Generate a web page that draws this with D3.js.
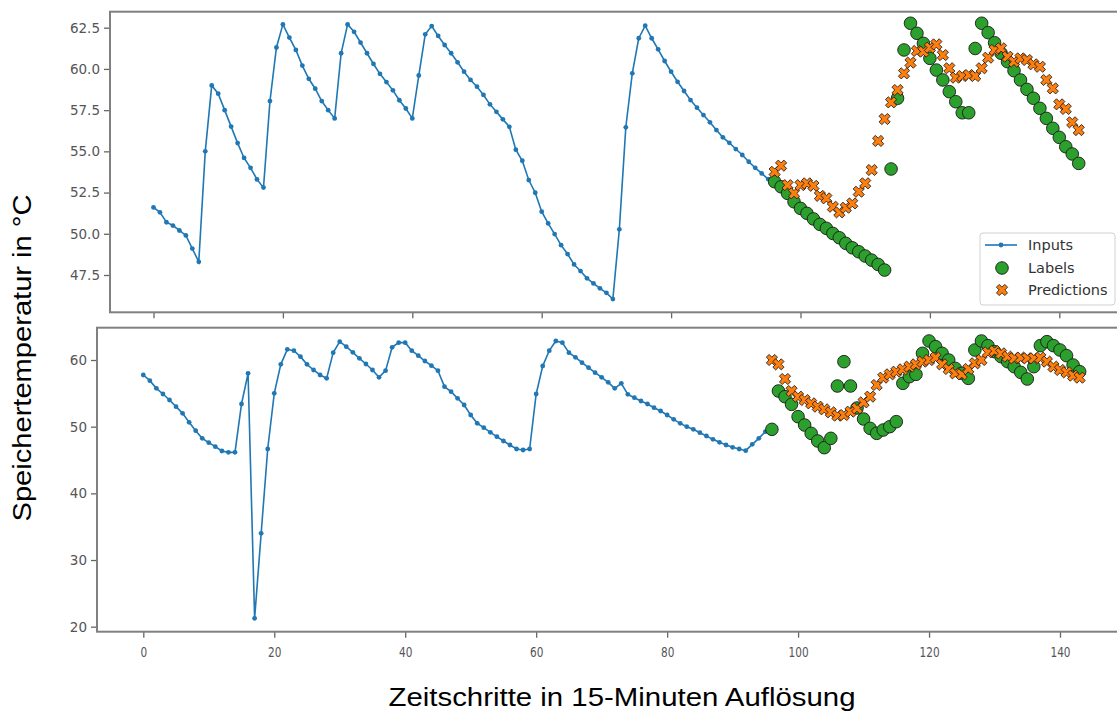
<!DOCTYPE html>
<html>
<head>
<meta charset="utf-8">
<script src="https://cdn.jsdelivr.net/npm/d3@7"></script>
<style>
body{margin:0;background:#fff;}
svg{display:block;}
</style>
</head>
<body>
<svg id="chart" width="1117" height="713"></svg>
<script>
//time steps of the predicted part
var predSteps=d3.range(96,144)
var inputSteps=d3.range(0,96)

//upper plot
var topInputs=[51.6,51.3,50.7,50.5,50.2,49.9,49.1,48.3,55.0,59.0,58.5,57.5,56.5,55.5,54.6,54.0,53.3,52.8,58.05,61.3,
62.7,61.9,61.15,60.2,59.4,58.8,58.05,57.5,57.0,60.95,62.7,62.25,61.6,60.95,60.3,59.7,59.2,58.7,58.1,57.6,
57.0,59.6,62.1,62.6,62.0,61.45,60.95,60.4,59.83,59.33,58.92,58.42,57.85,57.4,56.94,56.49,55.1,54.43,53.26,52.49,
51.34,50.63,49.98,49.31,48.77,48.14,47.74,47.3,46.99,46.69,46.42,46.04,50.27,56.46,59.73,61.86,62.62,61.86,61.19,60.48,
59.83,59.22,58.66,58.11,57.65,57.2,56.76,56.29,55.85,55.52,55.14,54.78,54.37,54.0,53.66,53.32]
var topLabels=[53.16,52.85,52.45,51.94,51.54,51.24,50.9,50.57,50.33,50.02,49.76,49.42,49.15,48.91,48.65,48.4,48.14,47.8,
53.93,58.22,61.15,62.77,62.16,61.55,60.64,59.93,59.33,58.62,58.01,57.34,57.34,61.24,62.77,62.2,61.59,60.95,60.44,59.89,
59.33,58.76,58.22,57.61,57.0,56.4,55.85,55.28,54.84,54.27]
var topPreds=[53.76,54.13,52.95,52.45,52.95,53.06,52.91,52.3,52.15,51.64,51.3,51.58,51.84,52.55,53.06,53.87,55.63,56.96,
57.97,58.72,59.73,60.38,61.09,61.05,61.29,61.49,60.84,60.04,59.47,59.57,59.63,59.57,60.04,60.68,61.15,61.25,60.74,60.44,
60.64,60.54,60.28,60.13,59.33,58.82,57.85,57.57,56.76,56.29]

//lower plot
var botInputs=[57.75,56.9,55.75,54.9,54.0,53.0,52.0,50.65,49.4,48.25,47.6,47.0,46.35,46.15,46.15,53.4,58.0,21.25,34.0,46.65,
55.0,59.35,61.6,61.4,60.5,59.35,58.5,57.75,57.25,61.1,62.75,62.0,61.15,60.25,59.4,58.5,57.4,58.4,61.9,62.6,
62.6,61.4,60.65,59.85,59.15,58.4,56.0,55.25,54.25,53.25,51.75,50.5,49.85,49.15,48.5,47.85,47.25,46.65,46.5,46.65,
54.9,59.1,61.4,62.85,62.6,61.1,60.4,59.6,58.85,58.1,57.4,56.65,55.75,56.5,54.85,54.35,53.85,53.4,52.85,52.35,
51.75,51.1,50.5,50.0,49.6,49.1,48.6,48.1,47.65,47.25,46.9,46.65,46.4,47.35,48.25,49.25]
var botLabels=[49.6,55.35,54.5,53.35,51.5,50.25,49.0,47.85,46.85,48.25,56.1,59.75,56.1,52.8,51.15,49.75,49.0,49.5,
50.0,50.75,56.5,57.5,57.85,61.0,62.85,62.0,61.0,60.0,58.75,58.0,57.25,61.5,62.85,62.15,61.25,60.5,59.75,59.0,
58.15,57.15,59.0,62.15,62.75,62.15,61.5,60.65,59.25,58.25]
var botPreds=[60.0,59.35,57.15,55.35,54.5,54.0,53.5,53.0,52.6,52.15,51.65,51.75,52.25,52.75,53.65,54.5,56.25,57.35,
57.85,58.25,58.6,59.0,59.35,59.75,60.0,60.35,59.35,58.65,58.0,57.85,58.65,59.5,60.0,61.15,61.35,61.0,60.5,60.25,
60.35,60.25,60.25,60.35,59.75,59.0,58.5,58.15,57.65,57.35]

var topYTicks=[47.5,50,52.5,55,57.5,60,62.5]
var botYTicks=[20,30,40,50,60]
var xTicks=[0,20,40,60,80,100,120,140]
var legendNames=["Inputs","Labels","Predictions"]

var colors={inputs:"#1f77b4",labels:"#2ca02c",preds:"#ff7f0e"}

var svg=d3.select("#chart")

var drawPanel=function(panel){
    var g=svg.append("g")
    var xScale=panel.xScale
    var yScale=panel.yScale

    //ticks left
    var yAxis=d3.axisLeft(yScale)
        .tickValues(panel.yTicks)
        .tickFormat(panel.yFormat)
        .tickSize(6)
        .tickPadding(4)
    g.append("g")
        .attr("transform","translate("+panel.left+",0)")
        .call(yAxis)
        .call(function(a){
            a.select(".domain").remove()
            a.selectAll("line").attr("stroke","#666").attr("stroke-width",1.3)
            a.selectAll("text")
                .attr("fill","#555")
                .style("font-family","DejaVu Sans")
                .style("font-size","13.5px")
        })

    //ticks bottom
    var xAxis=d3.axisBottom(xScale)
        .tickValues(xTicks)
        .tickSize(6)
        .tickPadding(9)
        .tickFormat(panel.showX ? d3.format("d") : "")
    g.append("g")
        .attr("transform","translate(0,"+panel.bottom+")")
        .call(xAxis)
        .call(function(a){
            a.select(".domain").remove()
            a.selectAll("line").attr("stroke","#666").attr("stroke-width",1.3)
            a.selectAll("text")
                .attr("fill","#555")
                .attr("transform","scale(0.75,1)")
                .style("font-family","DejaVu Sans")
                .style("font-size","14px")
        })

    //frame
    g.append("rect")
        .attr("x",panel.left)
        .attr("y",panel.top)
        .attr("width",1200-panel.left)
        .attr("height",panel.bottom-panel.top)
        .attr("fill","none")
        .attr("stroke","#808080")
        .attr("stroke-width",2)

    //inputs line
    var line=d3.line()
        .x(function(d,i){return xScale(inputSteps[i])})
        .y(function(d){return yScale(d)})
    g.append("path")
        .datum(panel.inputs)
        .attr("d",line)
        .attr("fill","none")
        .attr("stroke",colors.inputs)
        .attr("stroke-width",1.6)
    g.selectAll(".dot")
        .data(panel.inputs)
        .enter()
        .append("circle")
        .attr("cx",function(d,i){return xScale(inputSteps[i])})
        .attr("cy",function(d){return yScale(d)})
        .attr("r",2.4)
        .attr("fill",colors.inputs)

    //labels
    g.selectAll(".lab")
        .data(panel.labels)
        .enter()
        .append("circle")
        .attr("cx",function(d,i){return xScale(predSteps[i])})
        .attr("cy",function(d){return yScale(d)})
        .attr("r",6.3)
        .attr("fill",colors.labels)
        .attr("stroke","#1a1a1a")
        .attr("stroke-width",0.9)

    //predictions
    var xSym=d3.symbol().type(d3.symbolCross).size(78)
    g.selectAll(".pred")
        .data(panel.preds)
        .enter()
        .append("path")
        .attr("d",xSym)
        .attr("transform",function(d,i){
            return "translate("+xScale(predSteps[i])+","+yScale(d)+") rotate(45)"})
        .attr("fill",colors.preds)
        .attr("stroke","#1a1a1a")
        .attr("stroke-width",0.8)
}

//upper panel
var topPanel={
    left:110,top:11.7,bottom:312.3,
    xScale:d3.scaleLinear().domain([0,140]).range([153.5,153.5+140*6.47]),
    yScale:d3.scaleLinear().domain([47.5,62.5]).range([275,27.7]),
    yTicks:topYTicks,yFormat:d3.format(".1f"),showX:false,
    inputs:topInputs,labels:topLabels,preds:topPreds
}
//lower panel
var botPanel={
    left:97,top:327.7,bottom:631.7,
    xScale:d3.scaleLinear().domain([0,140]).range([143.3,1060]),
    yScale:d3.scaleLinear().domain([20,60]).range([626.7,360]),
    yTicks:botYTicks,yFormat:d3.format("d"),showX:true,
    inputs:botInputs,labels:botLabels,preds:botPreds
}
drawPanel(topPanel)
drawPanel(botPanel)

//legend
var leg=svg.append("g").attr("transform","translate(980,233)")
leg.append("rect")
    .attr("width",135).attr("height",72).attr("rx",3)
    .attr("fill","#fff").attr("fill-opacity",0.85)
    .attr("stroke","#d0d0d0")
leg.append("line")
    .attr("x1",5).attr("x2",37).attr("y1",12).attr("y2",12)
    .attr("stroke",colors.inputs).attr("stroke-width",1.6)
leg.append("circle")
    .attr("cx",21).attr("cy",12).attr("r",2.4).attr("fill",colors.inputs)
leg.append("circle")
    .attr("cx",22).attr("cy",35).attr("r",6.3)
    .attr("fill",colors.labels).attr("stroke","#1a1a1a").attr("stroke-width",0.9)
leg.append("path")
    .attr("d",d3.symbol().type(d3.symbolCross).size(78))
    .attr("transform","translate(22,57) rotate(45)")
    .attr("fill",colors.preds).attr("stroke","#1a1a1a").attr("stroke-width",0.8)
leg.selectAll(".lt")
    .data(legendNames)
    .enter()
    .append("text")
    .attr("x",48)
    .attr("y",function(d,i){return 17+i*22.5})
    .text(function(d){return d})
    .attr("fill","#333")
    .style("font-family","DejaVu Sans")
    .style("font-size","14.5px")

//axis titles
svg.append("text")
    .attr("x",622).attr("y",706)
    .attr("text-anchor","middle")
    .attr("textLength",467)
    .attr("lengthAdjust","spacingAndGlyphs")
    .style("font-family","Liberation Sans")
    .style("font-size","25px")
    .text("Zeitschritte in 15-Minuten Auflösung")
svg.append("text")
    .attr("transform","translate(31,358) rotate(-90)")
    .attr("text-anchor","middle")
    .attr("textLength",327)
    .attr("lengthAdjust","spacingAndGlyphs")
    .style("font-family","Liberation Sans")
    .style("font-size","25px")
    .text("Speichertemperatur in °C")
</script>
</body>
</html>
